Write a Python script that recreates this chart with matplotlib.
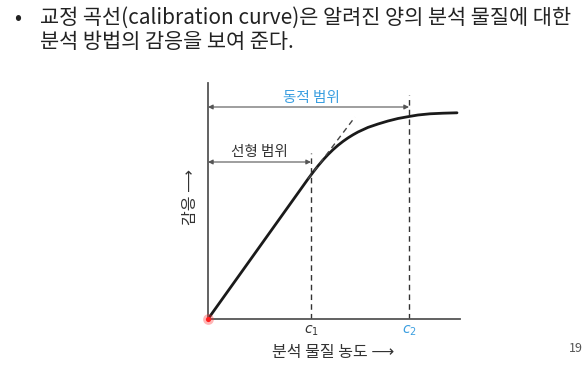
import matplotlib
matplotlib.use("Agg")
import matplotlib.pyplot as plt

plt.rcParams['font.family'] = ['Noto Sans CJK KR', 'DejaVu Sans']

# calibration curve (arbitrary units)
conc = [0, 1.00, 1.05, 1.10, 1.15, 1.20, 1.25, 1.30, 1.35, 1.40, 1.45, 1.50,
        1.60, 1.70, 1.80, 1.90, 2.01, 2.10, 2.22, 2.35, 2.49]
resp = [0, 1.40, 1.467, 1.531, 1.590, 1.644, 1.693, 1.737, 1.776, 1.811, 1.842, 1.870,
        1.916, 1.950, 1.980, 2.005, 2.025, 2.040, 2.052, 2.058, 2.062]
tangent_x = [1.00, 1.47]
tangent_y = [1.40, 2.02]
c1, c2 = 1.03, 2.01
c1_top, c2_top = 1.66, 2.24
lin_arrow_y, dyn_arrow_y = 1.57, 2.12
tick_labels = ['$c_1$', '$c_2$']
title_lines = ['교정 곡선(calibration curve)은 알려진 양의 분석 물질에 대한',
               '분석 방법의 감응을 보여 준다.']

fig = plt.figure(figsize=(5.85, 3.8), dpi=100)
ax = fig.add_axes([208 / 585, 61 / 380, 252 / 585, 236 / 380])
ax.set_xlim(0, 2.52)
ax.set_ylim(0, 2.36)

for s in ['top', 'right']:
    ax.spines[s].set_visible(False)
for s in ['left', 'bottom']:
    ax.spines[s].set_color('#555555')
    ax.spines[s].set_linewidth(1.3)

ax.plot(conc, resp, color='#1a1a1a', lw=2, solid_capstyle='round', solid_joinstyle='round')
ax.plot(tangent_x, tangent_y, color='#444444', lw=1, ls=(0, (4, 3)))
ax.plot([c1, c1], [0, c1_top], color='#333333', lw=1, ls=(0, (4, 3)))
ax.plot([c2, c2], [0, c2_top], color='#333333', lw=1, ls=(0, (4, 3)))

arrowprops = dict(arrowstyle='<|-|>', color='#555555', lw=0.8,
                  mutation_scale=7, shrinkA=0, shrinkB=0)
ax.annotate('', xy=(c1, lin_arrow_y), xytext=(0, lin_arrow_y), arrowprops=arrowprops)
ax.annotate('', xy=(c2, dyn_arrow_y), xytext=(0, dyn_arrow_y), arrowprops=arrowprops)
ax.text(0.51, 1.67, '선형 범위', ha='center', va='center', fontsize=10.5, color='#333333')
ax.text(1.03, 2.21, '동적 범위', ha='center', va='center', fontsize=10.5, color='#3a9ee0')

ax.set_xticks([c1, c2])
ax.set_xticklabels(tick_labels, fontsize=10)
ax.get_xticklabels()[0].set_color('#333333')
ax.get_xticklabels()[1].set_color('#3a9ee0')
ax.tick_params(axis='x', length=0, pad=3)
ax.set_yticks([])

ax.scatter([0], [0], s=60, color='#ff3030', alpha=0.35, clip_on=False, zorder=5, lw=0)
ax.scatter([0], [0], s=14, color='#ff2020', clip_on=False, zorder=6, lw=0)

fig.text(333 / 585, 1 - 352 / 380, '분석 물질 농도 ⟶', ha='center', va='center',
         fontsize=11.5, color='#333333')
fig.text(191 / 585, 1 - 197 / 380, '감응 ⟶', ha='center', va='center',
         rotation=90, fontsize=11.5, color='#333333')

fig.text(14 / 585, 1 - 18 / 380, '•', ha='left', va='center', fontsize=15, color='#222222')
fig.text(40 / 585, 1 - 18 / 380, title_lines[0], ha='left', va='center',
         fontsize=15, color='#222222')
fig.text(40 / 585, 1 - 42 / 380, title_lines[1], ha='left', va='center',
         fontsize=15, color='#222222')
fig.text(569 / 585, 1 - 348 / 380, '19', ha='left', va='center', fontsize=9, color='#555555')

fig.savefig('out.png', dpi=100)
